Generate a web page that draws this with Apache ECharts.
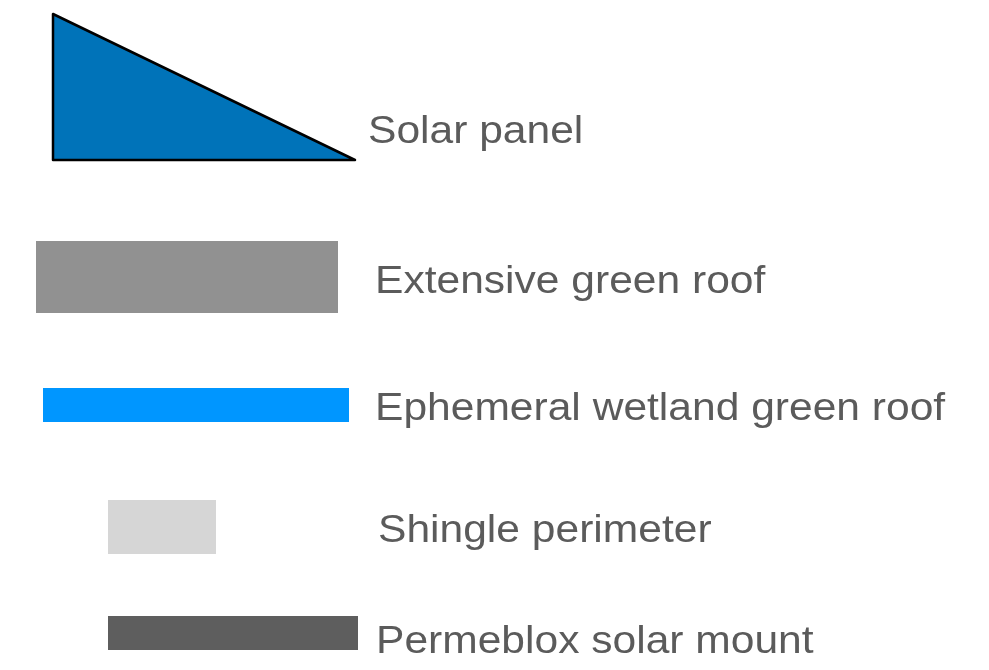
<!DOCTYPE html>
<html>
<head>
<meta charset="utf-8">
<script src="https://cdn.jsdelivr.net/npm/echarts@6/dist/echarts.min.js"></script>
<style>
html,body{margin:0;padding:0;background:#fff;}
#chart{width:989px;height:670px;}
</style>
</head>
<body>
<div id="chart"></div>
<script>
// Legend entries
const labels = ['Solar panel', 'Extensive green roof', 'Ephemeral wetland green roof', 'Shingle perimeter', 'Permeblox solar mount'];
const shapes = ['triangle', 'rect', 'rect', 'rect', 'rect'];
// Swatch extents in the diagram's own units
const swatchLeft = [53, 36, 43, 108, 108];
const swatchRight = [355, 338, 349, 216, 358];
const swatchTop = [14, 241, 388, 500, 616];
const swatchBottom = [160, 313, 422, 554, 650];
// Label anchor in the same units
const labelX = [368, 375, 375, 378, 376];
const labelY = [133, 282.5, 410, 531.5, 643];

const colors = ['#0073B9', '#919191', '#0096FF', '#D6D6D6', '#5E5E5E'];

const data = labels.map((l, i) => [swatchLeft[i], swatchTop[i], swatchRight[i], swatchBottom[i], labelX[i], labelY[i], i]);

const chart = echarts.init(document.getElementById('chart'), null, {renderer: 'canvas'});
chart.setOption({
  backgroundColor: '#ffffff',
  animation: false,
  grid: {left: 0, right: 0, top: 0, bottom: 0},
  xAxis: {type: 'value', min: 0, max: 989, show: false},
  yAxis: {type: 'value', min: 0, max: 670, inverse: true, show: false},
  series: [{
    type: 'custom',
    coordinateSystem: 'cartesian2d',
    encode: {x: [0, 2, 4], y: [1, 3, 5]},
    data: data,
    renderItem: function (params, api) {
      const i = api.value(6);
      const p0 = api.coord([api.value(0), api.value(1)]);
      const p1 = api.coord([api.value(2), api.value(3)]);
      const t = api.coord([api.value(4), api.value(5)]);
      let shape;
      if (shapes[i] === 'triangle') {
        shape = {
          type: 'polygon',
          shape: {points: [[p0[0], p0[1]], [p0[0], p1[1]], [p1[0], p1[1]]]},
          style: {fill: colors[i], stroke: '#000000', lineWidth: 2.5, lineJoin: 'round'}
        };
      } else {
        shape = {
          type: 'rect',
          shape: {x: p0[0], y: p0[1], width: p1[0] - p0[0], height: p1[1] - p0[1]},
          style: {fill: colors[i]}
        };
      }
      const text = {
        type: 'text',
        x: t[0], y: t[1],
        scaleX: 1.12,
        style: {
          text: labels[i],
          x: 0, y: 0,
          fill: '#5B5B5B',
          font: '38px "Liberation Sans", Arial, Helvetica, sans-serif',
          textAlign: 'left',
          textVerticalAlign: 'middle'
        }
      };
      return {type: 'group', children: [shape, text]};
    }
  }]
});
</script>
</body>
</html>
